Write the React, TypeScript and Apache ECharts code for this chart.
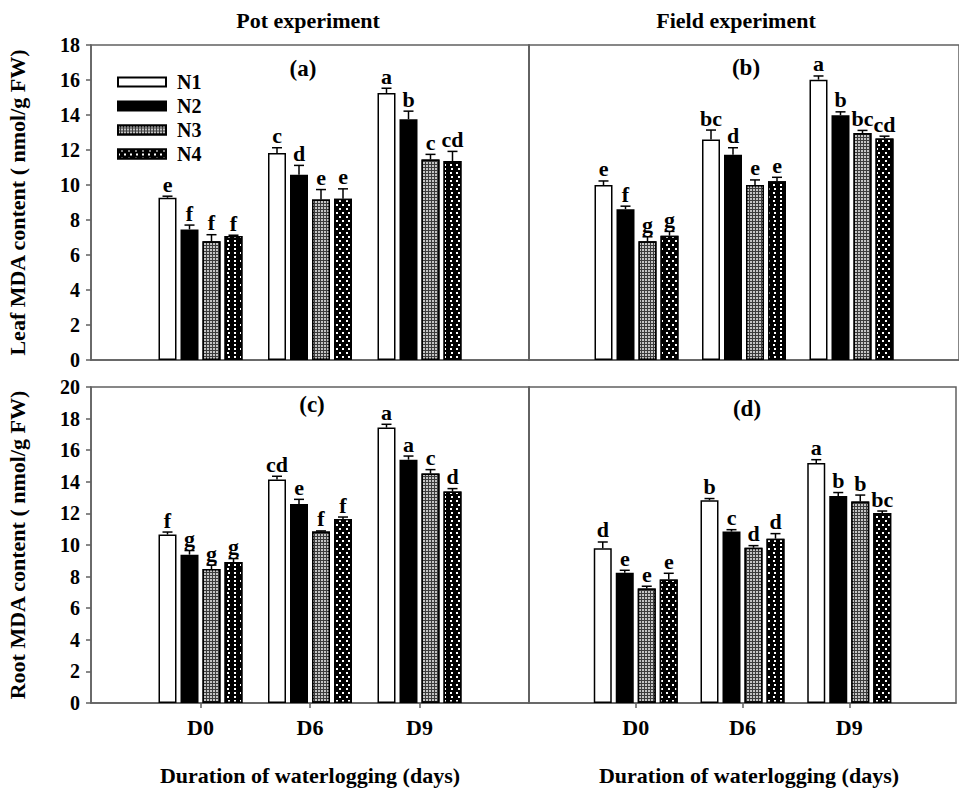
import React, { useEffect, useRef } from "react";
import * as echarts from "echarts";

const categories = ["D0", "D6", "D9"];
const seriesNames = ["N1", "N2", "N3", "N4"];
const leafTicksMax = 18;
const rootTicksMax = 20;

// rows: N1..N4, columns: D0, D6, D9
const leafPotMeans = [
  [9.27, 11.83, 15.26],
  [7.46, 10.59, 13.76],
  [6.78, 9.17, 11.46],
  [7.08, 9.21, 11.37],
];
const leafPotErrs = [
  [0.09, 0.3, 0.27],
  [0.25, 0.53, 0.46],
  [0.38, 0.57, 0.29],
  [0.05, 0.57, 0.55],
];
const leafPotLetters = [
  ["e", "c", "a"],
  ["f", "d", "b"],
  ["f", "e", "c"],
  ["f", "e", "cd"],
];

const leafFieldMeans = [
  [10.0, 12.6, 16.02],
  [8.62, 11.73, 13.99],
  [6.78, 10.0, 12.97],
  [7.1, 10.21, 12.66],
];
const leafFieldErrs = [
  [0.23, 0.54, 0.21],
  [0.17, 0.4, 0.19],
  [0.26, 0.29, 0.15],
  [0.25, 0.23, 0.13],
];
const leafFieldLetters = [
  ["e", "bc", "a"],
  ["f", "d", "b"],
  ["g", "e", "bc"],
  ["g", "e", "cd"],
];

const rootPotMeans = [
  [10.66, 14.14, 17.43],
  [9.39, 12.6, 15.4],
  [8.48, 10.85, 14.52],
  [8.92, 11.65, 13.38],
];
const rootPotErrs = [
  [0.16, 0.21, 0.21],
  [0.26, 0.29, 0.23],
  [0.25, 0.04, 0.25],
  [0.22, 0.12, 0.19],
];
const rootPotLetters = [
  ["f", "cd", "a"],
  ["g", "e", "a"],
  ["g", "f", "c"],
  ["g", "f", "d"],
];

const rootFieldMeans = [
  [9.79, 12.83, 15.19],
  [8.25, 10.85, 13.1],
  [7.24, 9.83, 12.75],
  [7.81, 10.4, 12.03],
];
const rootFieldErrs = [
  [0.4, 0.11, 0.21],
  [0.15, 0.12, 0.22],
  [0.15, 0.13, 0.41],
  [0.4, 0.32, 0.12],
];
const rootFieldLetters = [
  ["d", "b", "a"],
  ["e", "c", "b"],
  ["e", "d", "b"],
  ["e", "d", "bc"],
];

const FONT = '"Liberation Serif", "Times New Roman", serif';
const AXIS_COLOR = "#606060";
const BAR_W = 18;
const BAR_GAP_PX = 4;

const barStyles: any[] = [
  { color: "#ffffff", borderColor: "#000", borderWidth: 1.5 },
  { color: "#000000", borderColor: "#000", borderWidth: 1.5 },
  {
    color: "#3c3c3c",
    borderColor: "#000",
    borderWidth: 1.5,
    decal: {
      symbol: "rect",
      symbolSize: 1,
      color: "#c4c4c4",
      dashArrayX: [1.2, 1],
      dashArrayY: [1.2, 1],
      rotation: 0,
    },
  },
  {
    color: "#000000",
    borderColor: "#000",
    borderWidth: 1.5,
    decal: {
      symbol: "rect",
      symbolSize: 1,
      color: "#ffffff",
      dashArrayX: [
        [1.6, 3.8],
        [0, 2.7, 1.6, 1.1],
      ],
      dashArrayY: [1.6, 1.8],
      rotation: 0,
    },
  },
];

const panels = [
  { means: leafPotMeans, errs: leafPotErrs, letters: leafPotLetters },
  { means: leafFieldMeans, errs: leafFieldErrs, letters: leafFieldLetters },
  { means: rootPotMeans, errs: rootPotErrs, letters: rootPotLetters },
  { means: rootFieldMeans, errs: rootFieldErrs, letters: rootFieldLetters },
];

export default function App() {
  const ref = useRef<HTMLDivElement>(null);

  useEffect(() => {
    if (!ref.current) return;
    const chart = echarts.init(ref.current, null, { renderer: "svg" });

    const grids = [
      { left: 91, top: 45, width: 438, height: 315 },
      { left: 529, top: 45, width: 437, height: 315 },
      { left: 91, top: 387, width: 438, height: 316 },
      { left: 529, top: 387, width: 437, height: 316 },
    ].map((g) => ({
      ...g,
      show: true,
      borderColor: AXIS_COLOR,
      borderWidth: 1.5,
      backgroundColor: "transparent",
      containLabel: false,
    }));

    const axisCats = ["", ...categories, ""];

    const xAxes = [0, 1, 2, 3].map((i) => {
      const bottomRow = i >= 2;
      return {
        type: "category",
        gridIndex: i,
        data: axisCats,
        boundaryGap: false,
        axisLine: { show: true, lineStyle: { color: AXIS_COLOR, width: 1.5 } },
        axisTick: {
          show: bottomRow,
          length: 5,
          interval: (idx: number) => idx >= 1 && idx <= categories.length,
          lineStyle: { color: AXIS_COLOR, width: 1.5 },
        },
        axisLabel: {
          show: bottomRow,
          interval: 0,
          margin: 13,
          fontFamily: FONT,
          fontWeight: "bold",
          fontSize: 22,
          color: "#000",
        },
        splitLine: { show: false },
      };
    });

    const yAxes = [0, 1, 2, 3].map((i) => {
      const leftCol = i % 2 === 0;
      const max = i < 2 ? leafTicksMax : rootTicksMax;
      return {
        type: "value",
        gridIndex: i,
        min: 0,
        max,
        interval: 2,
        name: leftCol
          ? i === 0
            ? "Leaf MDA content ( nmol/g FW)"
            : "Root MDA content ( nmol/g FW)"
          : "",
        nameLocation: "middle",
        nameRotate: 90,
        nameGap: 63,
        nameTextStyle: {
          fontFamily: FONT,
          fontWeight: "bold",
          fontSize: 22,
          color: "#000",
        },
        axisLine: { show: true, lineStyle: { color: AXIS_COLOR, width: 1.5 } },
        axisTick: {
          show: leftCol,
          length: 5,
          lineStyle: { color: AXIS_COLOR, width: 1.5 },
        },
        axisLabel: {
          show: leftCol,
          margin: 11,
          fontFamily: FONT,
          fontWeight: "bold",
          fontSize: 20,
          color: "#000",
        },
        splitLine: { show: false },
      };
    });

    const series: any[] = [];
    panels.forEach((p, pi) => {
      seriesNames.forEach((name, k) => {
        series.push({
          type: "bar",
          name,
          xAxisIndex: pi,
          yAxisIndex: pi,
          barWidth: BAR_W,
          barGap: `${(BAR_GAP_PX / BAR_W) * 100}%`,
          itemStyle: barStyles[k],
          data: p.means[k].map((v, ci) => [ci + 1, v]),
          z: 2,
        });
      });
      seriesNames.forEach((name, k) => {
        const offset = (k - (seriesNames.length - 1) / 2) * (BAR_W + BAR_GAP_PX);
        series.push({
          type: "custom",
          xAxisIndex: pi,
          yAxisIndex: pi,
          z: 4,
          data: p.means[k].map((v, ci) => [ci + 1, v, p.errs[k][ci]]),
          renderItem: (params: any, api: any) => {
            const base = api.coord([api.value(0), api.value(1)]);
            const top = api.coord([api.value(0), api.value(1) + api.value(2)]);
            const cx = base[0] + offset;
            return {
              type: "group",
              children: [
                {
                  type: "line",
                  shape: { x1: cx, y1: base[1], x2: cx, y2: top[1] },
                  style: { stroke: "#000", lineWidth: 1.5 },
                },
                {
                  type: "line",
                  shape: { x1: cx - 5, y1: top[1], x2: cx + 5, y2: top[1] },
                  style: { stroke: "#000", lineWidth: 1.5 },
                },
                {
                  type: "text",
                  x: cx,
                  y: top[1] - 1,
                  style: {
                    text: p.letters[k][params.dataIndex],
                    align: "center",
                    verticalAlign: "bottom",
                    fontFamily: FONT,
                    fontWeight: "bold",
                    fontSize: 22,
                    fill: "#000",
                  },
                },
              ],
            };
          },
        });
      });
    });

    const textStyle = (text: string, x: number, y: number, size: number) => ({
      type: "text",
      x,
      y,
      style: {
        text,
        align: "center",
        verticalAlign: "middle",
        fontFamily: FONT,
        fontWeight: "bold",
        fontSize: size,
        fill: "#000",
      },
    });

    chart.setOption({
      animation: false,
      grid: grids,
      xAxis: xAxes,
      yAxis: yAxes,
      legend: {
        data: seriesNames,
        orient: "vertical",
        left: 112,
        top: 67,
        itemWidth: 48,
        itemHeight: 9,
        itemGap: 4,
        icon: "rect",
        textStyle: {
          fontFamily: FONT,
          fontWeight: "bold",
          fontSize: 20,
          color: "#000",
          padding: [0, 0, 0, 6],
        },
      },
      graphic: [
        textStyle("Pot experiment", 308, 20, 22),
        textStyle("Field experiment", 736, 20, 22),
        textStyle("(a)", 303, 68, 23),
        textStyle("(b)", 746, 67, 23),
        textStyle("(c)", 312, 404, 23),
        textStyle("(d)", 747, 408, 23),
        textStyle("Duration of waterlogging (days)", 310, 775, 22),
        textStyle("Duration of waterlogging (days)", 749, 775, 22),
      ],
      series,
    });

    return () => chart.dispose();
  }, []);

  return (
    <div
      ref={ref}
      style={{ position: "absolute", left: 0, top: 0, width: 959, height: 788 }}
    />
  );
}
